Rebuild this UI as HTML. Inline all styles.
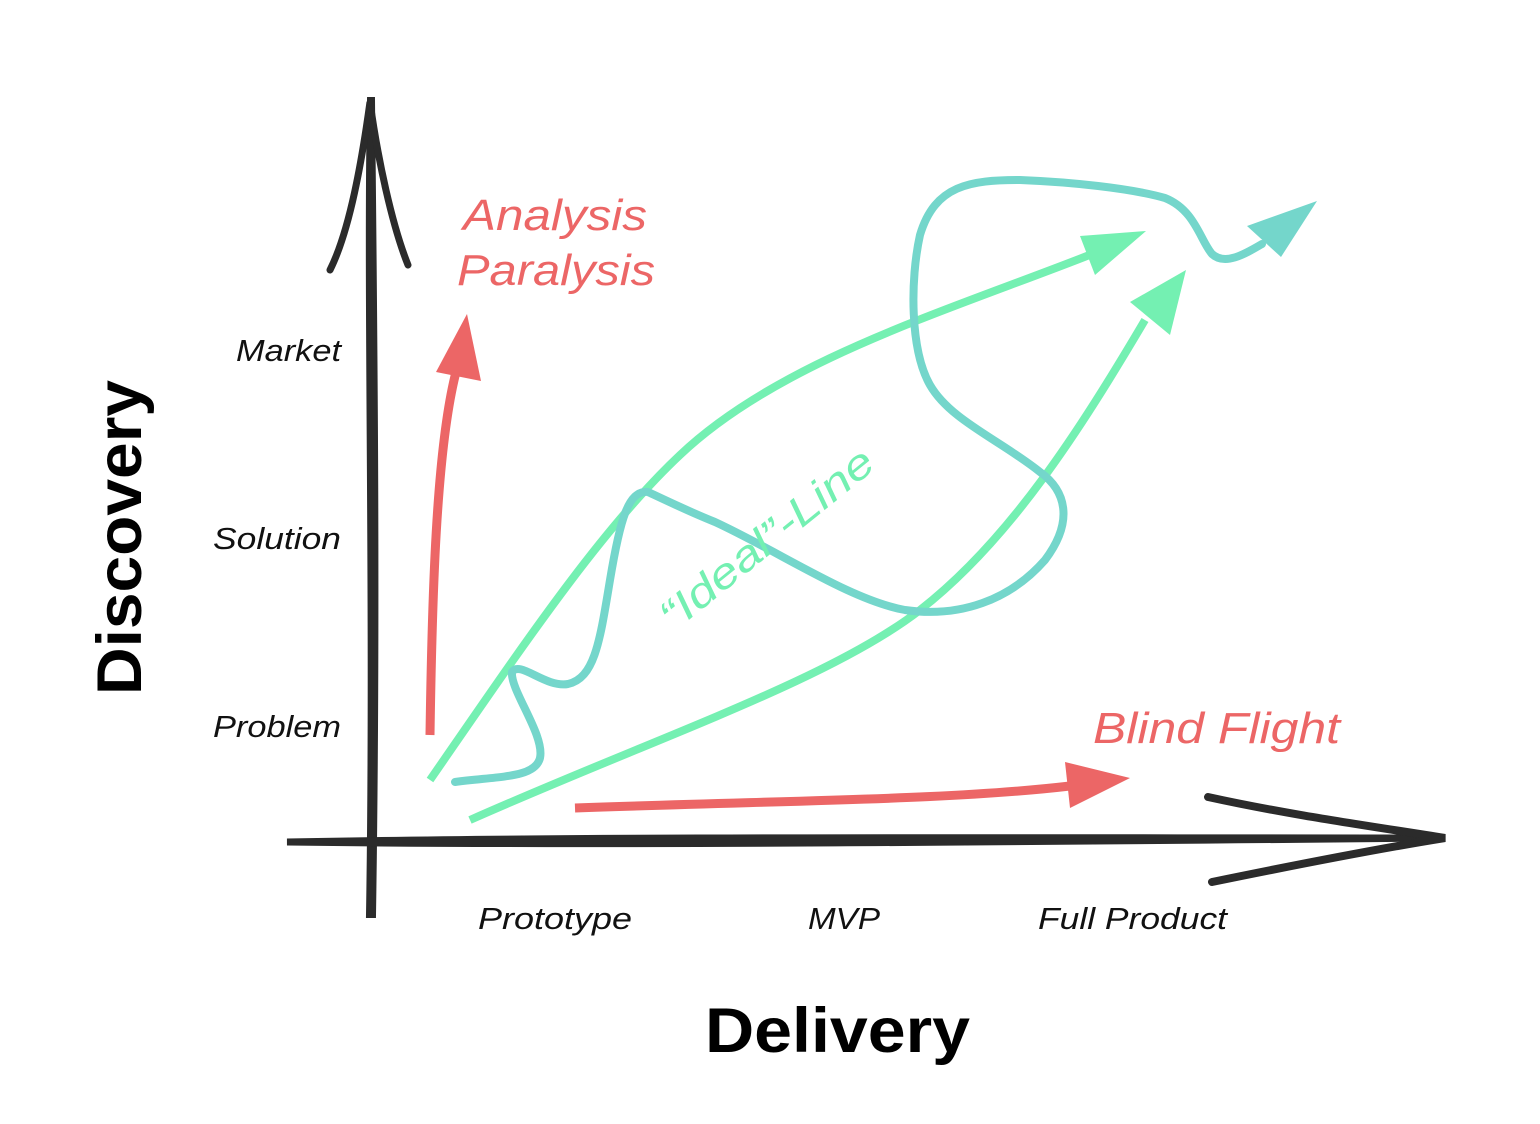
<!DOCTYPE html>
<html><head><meta charset="utf-8"><style>
html,body{margin:0;padding:0;background:#fff;}
svg{display:block;}
text{font-family:"Liberation Sans",sans-serif;}
</style></head><body>
<svg width="1540" height="1124" viewBox="0 0 1540 1124" xmlns="http://www.w3.org/2000/svg">
<!-- Y axis -->
<path d="M370,100 C366,300 374,600 369,915 L373,915 C378,600 374,300 372,100 Z" fill="#2b2b2b" stroke="#2b2b2b" stroke-width="6"/>
<path d="M330,270 C350,230 362,160 370,102 C378,160 392,225 408,265" fill="none" stroke="#2b2b2b" stroke-width="7" stroke-linecap="round"/>
<!-- X axis -->
<path d="M287,842 C600,836 1000,838 1445,838 C1000,842 600,846 287,842 Z" fill="#2b2b2b" stroke="#2b2b2b" stroke-width="7"/>
<path d="M1208,797 C1290,815 1370,826 1445,838 C1370,850 1290,866 1212,882" fill="none" stroke="#2b2b2b" stroke-width="8" stroke-linecap="round"/>
<!-- Red vertical -->
<path d="M430,735 C432,600 436,450 456,372" fill="none" stroke="#ec6666" stroke-width="9"/>
<polygon points="467,314 436,372 481,381" fill="#ec6666"/>
<!-- Red horizontal -->
<path d="M575,808 C800,800 950,800 1070,786" fill="none" stroke="#ec6666" stroke-width="9"/>
<polygon points="1130,778 1065,762 1070,808" fill="#ec6666"/>
<!-- Green lines -->
<path d="M430,780 C520,650 600,530 680,455 C780,360 950,310 1092,254" fill="none" stroke="#74f0b2" stroke-width="8"/>
<polygon points="1146,231 1080,236 1095,275" fill="#74f0b2"/>
<path d="M470,820 C650,740 830,680 920,610 C1010,540 1080,430 1145,320" fill="none" stroke="#74f0b2" stroke-width="8"/>
<polygon points="1186,270 1130,302 1170,335" fill="#74f0b2"/>
<!-- Teal wiggle -->
<path d="M455,782 C500,776 535,778 540,758 C545,735 510,690 512,672 C520,660 545,688 568,684 C595,678 600,640 610,580 C620,520 628,490 648,492 C665,500 690,512 715,522 C780,552 850,600 905,610 C960,618 1010,600 1045,560 C1075,520 1065,490 1040,472 C1000,440 950,420 930,385 C910,350 910,280 920,235 C935,185 970,180 1020,180 C1070,182 1130,188 1165,198 C1195,210 1200,240 1212,254 C1225,266 1245,254 1262,244" fill="none" stroke="#74d6cb" stroke-width="8" stroke-linecap="round"/>
<polygon points="1317,201 1247,226 1281,257" fill="#74d6cb"/>
<!-- Ideal line label -->
<text x="0" y="0" transform="translate(674,632) rotate(-39)" font-size="42" font-style="italic" fill="#74f0b2" textLength="262" lengthAdjust="spacingAndGlyphs">“Ideal”-Line</text>
<!-- Red labels -->
<text x="463" y="230" font-size="44" font-style="italic" fill="#ec6666" textLength="184" lengthAdjust="spacingAndGlyphs">Analysis</text>
<text x="457" y="285" font-size="44" font-style="italic" fill="#ec6666" textLength="198" lengthAdjust="spacingAndGlyphs">Paralysis</text>
<text x="1093" y="743" font-size="44" font-style="italic" fill="#ec6666" textLength="247" lengthAdjust="spacingAndGlyphs">Blind Flight</text>
<!-- Axis labels -->
<text x="236" y="361" font-size="31" font-style="italic" fill="#111" textLength="105" lengthAdjust="spacingAndGlyphs">Market</text>
<text x="213" y="549" font-size="31" font-style="italic" fill="#111" textLength="128" lengthAdjust="spacingAndGlyphs">Solution</text>
<text x="213" y="737" font-size="31" font-style="italic" fill="#111" textLength="128" lengthAdjust="spacingAndGlyphs">Problem</text>
<text x="478" y="929" font-size="31" font-style="italic" fill="#111" textLength="154" lengthAdjust="spacingAndGlyphs">Prototype</text>
<text x="808" y="929" font-size="31" font-style="italic" fill="#111" textLength="72" lengthAdjust="spacingAndGlyphs">MVP</text>
<text x="1038" y="929" font-size="31" font-style="italic" fill="#111" textLength="189" lengthAdjust="spacingAndGlyphs">Full Product</text>
<text x="705" y="1052" font-size="63" font-weight="bold" fill="#000" textLength="265" lengthAdjust="spacingAndGlyphs">Delivery</text>
<text x="0" y="0" transform="translate(141,695) rotate(-90)" font-size="63" font-weight="bold" fill="#000" textLength="315" lengthAdjust="spacingAndGlyphs">Discovery</text>
</svg>
</body></html>
